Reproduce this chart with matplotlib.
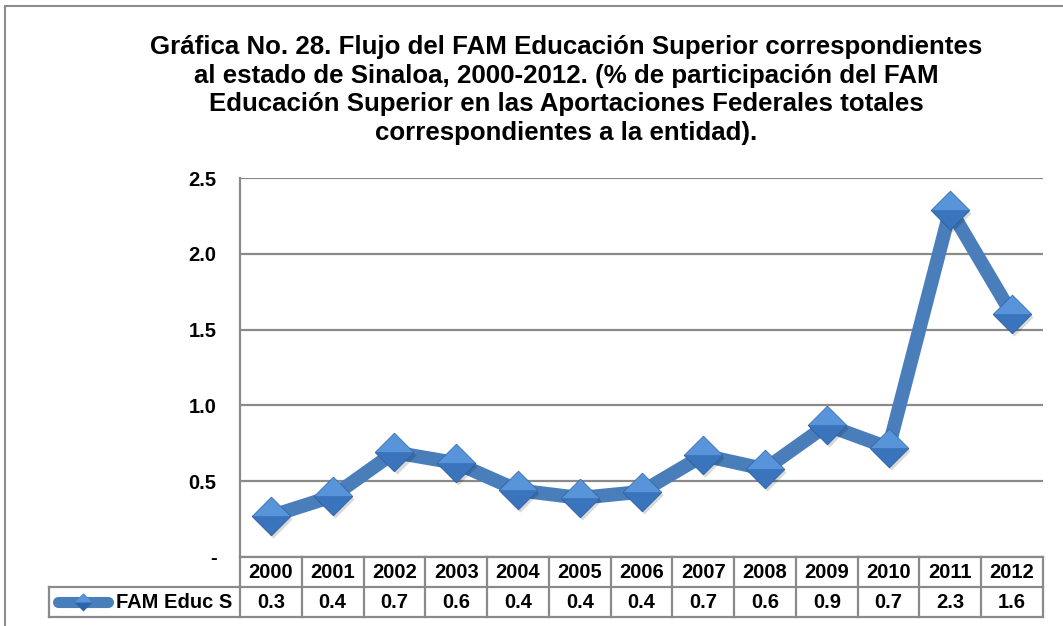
import matplotlib
matplotlib.use("Agg")
import matplotlib.pyplot as plt
from matplotlib.transforms import blended_transform_factory, ScaledTranslation
from matplotlib.patches import Rectangle
from matplotlib.lines import Line2D

plt.rcParams['font.family'] = ['Liberation Sans', 'DejaVu Sans']
plt.rcParams['font.weight'] = 'bold'

years = ['2000', '2001', '2002', '2003', '2004', '2005', '2006',
         '2007', '2008', '2009', '2010', '2011', '2012']
fam_educ = [0.27, 0.40, 0.69, 0.62, 0.44, 0.39, 0.43,
            0.67, 0.58, 0.87, 0.72, 2.29, 1.60]
series_name = 'FAM Educ S'
title = ('Gráfica No. 28. Flujo del FAM Educación Superior correspondientes\n'
         'al estado de Sinaloa, 2000-2012. (% de participación del FAM\n'
         'Educación Superior en las Aportaciones Federales totales\n'
         'correspondientes a la entidad).')
yticks = [0, 0.5, 1.0, 1.5, 2.0, 2.5]
yticklabels = ['-', '0.5', '1.0', '1.5', '2.0', '2.5']

W, H = 1063, 626
fig = plt.figure(figsize=(W / 100, H / 100), dpi=100)
fig.patch.set_facecolor('white')

# outer chart border (runs off the right and bottom edges)
fig.patches.append(Rectangle((5 / W, -0.1), 1.2, 1 - 6 / H + 0.1,
                             transform=fig.transFigure, fill=False,
                             edgecolor='#8c8c8c', lw=1.5))

fig.text(566 / W, 1 - 90 / H, title, ha='center', va='center',
         fontsize=18.6, fontweight='bold', linespacing=1.26)

left, right, top, bottom = 240, 1043, 178, 557
ax = fig.add_axes([left / W, 1 - bottom / H, (right - left) / W, (bottom - top) / H])

line_color = '#4a7ebb'
light = '#5794da'
mid = '#3a74bc'
dark = '#2f64a6'

n = len(years)
xs = list(range(n))
ax.plot(xs, fam_educ, color=line_color, lw=10, solid_capstyle='round',
        solid_joinstyle='round', zorder=3)

diamond = [(-1, 0), (0, 1), (1, 0), (0, -1), (-1, 0)]
upper = [(-1, 0), (0, 1), (1, 0), (-1, 0)]
lower = [(-1, 0), (1, 0), (0, -1), (-1, 0)]
ms = 27.5
# soft shadow
shadow = ax.transData + ScaledTranslation(1.5 / 72, -2 / 72, fig.dpi_scale_trans)
ax.plot(xs, fam_educ, ls='none', marker=diamond, ms=ms, mfc='#000000',
        mec='none', alpha=0.15, zorder=4, transform=shadow)
ax.plot(xs, fam_educ, ls='none', marker=diamond, ms=ms, mfc=dark,
        mec='#285a96', mew=0.8, zorder=5)
ax.plot(xs, fam_educ, ls='none', marker=upper, ms=ms, mfc=light,
        mec='none', zorder=6)
ax.plot(xs, fam_educ, ls='none', marker=lower, ms=ms, mfc=mid,
        mec='none', zorder=6)

ax.set_xlim(-0.5, n - 0.5)
ax.set_ylim(0, 2.5)
ax.set_yticks(yticks)
ax.set_yticklabels(yticklabels, fontsize=14.5, fontweight='bold')
ax.tick_params(axis='y', length=0, pad=17)
ax.set_xticks([])
ax.grid(axis='y', color='#8a8a8a', lw=1.6)
ax.set_axisbelow(True)
for s in ['top', 'right', 'bottom']:
    ax.spines[s].set_visible(False)
ax.spines['left'].set_color('#8a8a8a')
ax.spines['left'].set_linewidth(1.6)

# data table under the plot
tr = blended_transform_factory(ax.transData, ax.transAxes)
row_h = 30 / (bottom - top)
gray = '#8a8a8a'


def hline(x0, x1, y):
    ax.add_line(Line2D([x0, x1], [y, y], transform=tr, color=gray, lw=1.6,
                       clip_on=False, zorder=2))


def vline(x, y0, y1):
    ax.add_line(Line2D([x, x], [y0, y1], transform=tr, color=gray, lw=1.6,
                       clip_on=False, zorder=2))


label_x0 = -0.5 - (left - 49) / ((right - left) / n)
hline(-0.5, n - 0.5, 0)
hline(label_x0, n - 0.5, -row_h)
hline(label_x0, n - 0.5, -2 * row_h)
for i in range(n + 1):
    vline(i - 0.5, 0, -2 * row_h)
vline(label_x0, -row_h, -2 * row_h)

for i, (yr, v) in enumerate(zip(years, fam_educ)):
    ax.text(i, -0.5 * row_h, yr, transform=tr, ha='center', va='center',
            fontsize=14.5, fontweight='bold')
    ax.text(i, -1.5 * row_h, f'{v:.1f}', transform=tr, ha='center',
            va='center', fontsize=14.5, fontweight='bold')

ax.text(-0.62, -1.5 * row_h, series_name, transform=tr, ha='right',
        va='center', fontsize=14.5, fontweight='bold')

# legend key inside the table's label cell
key_y = -1.5 * row_h
key_x = [label_x0 + 0.14, label_x0 + 0.96]
ax.add_line(Line2D(key_x, [key_y, key_y], transform=tr, color=line_color,
                   lw=8, solid_capstyle='round', clip_on=False, zorder=3))
kx = (key_x[0] + key_x[1]) / 2
ax.plot([kx], [key_y], transform=tr, ls='none', marker=diamond, ms=13,
        mfc=dark, mec='none', clip_on=False, zorder=4)
ax.plot([kx], [key_y], transform=tr, ls='none', marker=upper, ms=13,
        mfc=light, mec='none', clip_on=False, zorder=5)

fig.savefig('out.png', dpi=100)
